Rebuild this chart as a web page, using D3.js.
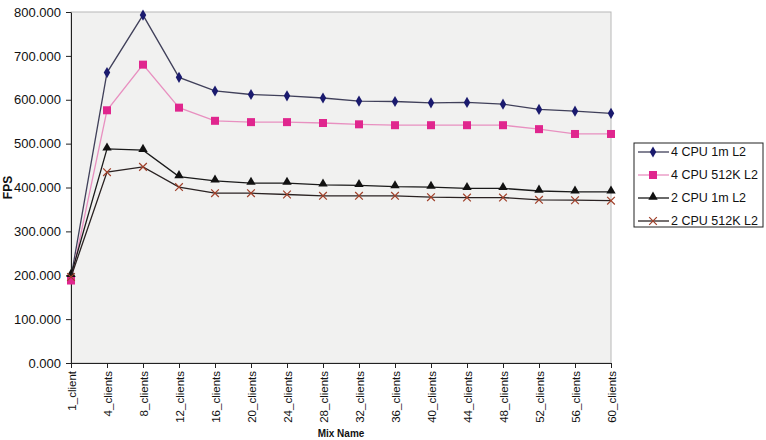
<!DOCTYPE html>
<html>
<head>
<meta charset="utf-8">
<script src="https://cdn.jsdelivr.net/npm/d3@7"></script>
<style>
  body { margin: 0; padding: 0; background: #fff; }
  svg text { font-family: Arial, "Liberation Sans", sans-serif; fill: #111; }
</style>
</head>
<body>
<svg id="chart" width="766" height="440"></svg>
<script>
var categories = ['1_client', '4_clients', '8_clients', '12_clients', '16_clients', '20_clients',
  '24_clients', '28_clients', '32_clients', '36_clients', '40_clients', '44_clients',
  '48_clients', '52_clients', '56_clients', '60_clients'];

var cpu4_1m   = [195, 662, 793, 651, 620, 612, 609, 604, 597, 596, 593, 594, 590, 578, 574, 569];
var cpu4_512k = [188, 576, 680, 582, 552, 549, 549, 547, 544, 542, 542, 542, 542, 533, 522, 522];
var cpu2_1m   = [200, 488, 485, 425, 415, 410, 410, 406, 405, 402, 401, 398, 398, 392, 390, 390];
var cpu2_512k = [196, 435, 447, 401, 387, 387, 384, 381, 381, 381, 378, 377, 377, 372, 371, 370];

var yTicks = [0, 100, 200, 300, 400, 500, 600, 700, 800];

var series = [
  { name: '4 CPU 1m L2',   values: cpu4_1m,   line: '#40405a', fill: '#1a1a6e', marker: 'diamond' },
  { name: '4 CPU 512K L2', values: cpu4_512k, line: '#e890c0', fill: '#e0268e', marker: 'square' },
  { name: '2 CPU 1m L2',   values: cpu2_1m,   line: '#1a1a1a', fill: '#111111', marker: 'triangle' },
  { name: '2 CPU 512K L2', values: cpu2_512k, line: '#2a2222', fill: '#a0402a', marker: 'cross' }
];

var plotLeft = 71, plotRight = 611, plotTop = 12, plotBottom = 363;

var svg = d3.select('#chart');

var x = d3.scalePoint().domain(categories).range([plotLeft, plotRight]);
var y = d3.scaleLinear().domain([0, 800]).range([plotBottom, plotTop]);

// plot background
svg.append('rect')
  .attr('x', plotLeft).attr('y', plotTop)
  .attr('width', plotRight - plotLeft).attr('height', plotBottom - plotTop)
  .attr('fill', '#f1f1f0')
  .attr('stroke', '#b8b8b8').attr('stroke-width', 1);

// y axis
var yAxis = svg.append('g')
  .attr('transform', 'translate(' + plotLeft + ',0)')
  .call(d3.axisLeft(y).tickValues(yTicks).tickSize(5).tickSizeOuter(0).tickFormat(d3.format('.3f')));
yAxis.select('.domain').attr('stroke', '#222');
yAxis.selectAll('.tick line').attr('stroke', '#222');
yAxis.selectAll('.tick text')
  .attr('x', -10)
  .style('font-size', '13px')
  .style('font-family', 'Arial, "Liberation Sans", sans-serif')
  .attr('fill', '#111');

// x axis
var xAxis = svg.append('g')
  .attr('transform', 'translate(0,' + plotBottom + ')')
  .call(d3.axisBottom(x).tickSize(5).tickSizeOuter(0));
xAxis.select('.domain').attr('stroke', '#222');
xAxis.selectAll('.tick line').attr('stroke', '#222');
xAxis.selectAll('.tick text')
  .attr('transform', 'rotate(-90)')
  .attr('x', -8).attr('y', 0).attr('dy', '0.35em')
  .style('text-anchor', 'end')
  .style('font-size', '11.5px')
  .style('font-family', 'Arial, "Liberation Sans", sans-serif')
  .attr('fill', '#111');

// axis titles
svg.append('text')
  .attr('transform', 'translate(12,' + ((plotTop + plotBottom) / 2) + ') rotate(-90)')
  .attr('text-anchor', 'middle')
  .style('font-size', '12px').style('font-weight', 'bold')
  .text('FPS');

svg.append('text')
  .attr('x', 341).attr('y', 437)
  .attr('text-anchor', 'middle')
  .style('font-size', '10px').style('font-weight', 'bold')
  .text('Mix Name');

function drawMarker(g, type, fill, cx, cy) {
  if (type === 'diamond') {
    g.append('path').attr('d', d3.symbol(d3.symbolDiamond, 36)())
      .attr('transform', 'translate(' + cx + ',' + cy + ')').attr('fill', fill);
  } else if (type === 'square') {
    g.append('rect').attr('x', cx - 4).attr('y', cy - 4).attr('width', 8).attr('height', 8).attr('fill', fill);
  } else if (type === 'triangle') {
    g.append('path').attr('d', d3.symbol(d3.symbolTriangle, 38)())
      .attr('transform', 'translate(' + cx + ',' + (cy - 1) + ')').attr('fill', fill);
  } else {
    g.append('path').attr('d', d3.symbol(d3.symbolX, 40)())
      .attr('transform', 'translate(' + cx + ',' + cy + ')')
      .attr('fill', 'none').attr('stroke', fill).attr('stroke-width', 1.2);
  }
}

var line = d3.line()
  .x(function(d, i) { return x(categories[i]); })
  .y(function(d) { return y(d); });

series.forEach(function(s) {
  var g = svg.append('g');
  g.append('path')
    .datum(s.values)
    .attr('d', line)
    .attr('fill', 'none')
    .attr('stroke', s.line)
    .attr('stroke-width', 1.3);
  s.values.forEach(function(v, i) {
    drawMarker(g, s.marker, s.fill, x(categories[i]), y(v));
  });
});

// legend
var legend = svg.append('g').attr('transform', 'translate(634,143)');
legend.append('rect')
  .attr('width', 129).attr('height', 84)
  .attr('fill', '#fff').attr('stroke', '#222').attr('stroke-width', 1);

series.forEach(function(s, i) {
  var ly = 9 + i * 23;
  var row = legend.append('g');
  row.append('line')
    .attr('x1', 4).attr('x2', 35).attr('y1', ly).attr('y2', ly)
    .attr('stroke', s.line).attr('stroke-width', 1.3);
  drawMarker(row, s.marker, s.fill, 19, ly);
  row.append('text')
    .attr('x', 37).attr('y', ly).attr('dy', '0.35em')
    .style('font-size', '12.5px')
    .text(s.name);
});
</script>
</body>
</html>
